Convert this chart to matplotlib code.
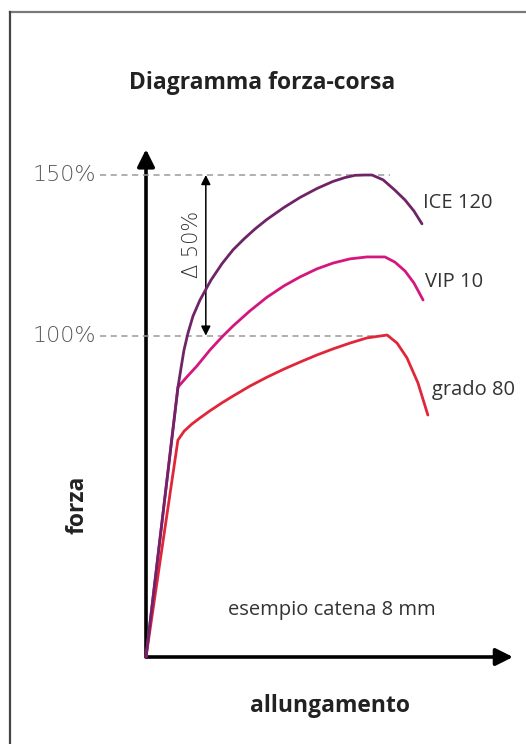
import numpy as np
import matplotlib.pyplot as plt
from matplotlib.patches import FancyArrowPatch

# valori (allungamento in unita' arbitrarie, forza in %)
ice_x = [0, 8.72, 9.54, 10.35, 11.44, 12.81, 14.71, 17.71, 20.71, 23.71, 26.70, 29.70, 32.97,
         37.60, 41.96, 46.59, 50.95, 54.22, 56.95, 59.67, 61.58, 64.6, 67.8, 70.6, 73.0, 75.2]
ice_y = [0, 84.0, 89.9, 95.5, 100.8, 106.1, 111.1, 117.3, 122.4, 126.7, 130.1, 133.2, 136.2,
         139.9, 143.0, 145.8, 148.0, 149.2, 149.9, 150.0, 150.0, 148.5, 145.3, 142.2, 138.8, 134.8]

vip_x = [0, 8.7, 11.4, 13.9, 17.4, 20.7, 23.7, 28.3, 33.0, 37.6, 42.0, 46.6, 51.0, 55.6,
         60.2, 65.1, 67.8, 70.6, 73.0, 75.5]
vip_y = [0, 84.0, 87.5, 90.6, 95.5, 99.6, 103.0, 107.7, 112.0, 115.5, 118.3, 120.8, 122.6, 123.9,
         124.5, 124.5, 122.9, 120.1, 116.4, 111.1]

g80_x = [0, 8.7, 10.4, 12.5, 14.7, 17.4, 20.7, 23.7, 28.3, 33.0, 37.6, 42.0, 46.6, 51.0,
         55.6, 60.2, 65.7, 68.4, 71.1, 74.1, 76.8]
g80_y = [0, 67.5, 70.3, 72.5, 74.4, 76.6, 79.1, 81.2, 84.3, 87.1, 89.6, 91.8, 94.0, 95.9,
         97.7, 99.3, 100.2, 97.7, 93.1, 85.3, 75.3]

livelli = [100, 150]
livelli_txt = ['100%', '150%']

W, H = 526, 744
fig = plt.figure(figsize=(W / 100, H / 100), dpi=100)

# cornice
fig.add_artist(plt.Line2D([10 / W, 1], [1 - 12 / H, 1 - 12 / H], color='#7a7a7a', lw=1.6))
fig.add_artist(plt.Line2D([10 / W, 10 / W], [0, 1 - 12 / H], color='#444444', lw=1.6))

x0, y0 = 146, 657
ax = fig.add_axes([x0 / W, (H - y0) / H, (513 - x0) / W, (y0 - 175) / H])
ax.set_xlim(0, 100)
ax.set_ylim(0, 150)
ax.axis('off')

# linee tratteggiate 100% e 150%
for lv, t in zip(livelli, livelli_txt):
    ax.plot([-12.5, 66.5], [lv, lv], color='#9a9a9a', lw=1.1, ls=(0, (4, 3)), clip_on=False)
    ax.text(-13.6, lv, t, ha='right', va='center', fontsize=16, color='#555555',
            fontfamily='DejaVu Sans', fontweight='light')

# curve
kw = dict(lw=2.0, solid_capstyle='round', solid_joinstyle='round', clip_on=False)
ax.plot(g80_x, g80_y, color='#e2263a', **kw)
ax.plot(vip_x, vip_y, color='#d4167f', **kw)
ax.plot(ice_x, ice_y, color='#6f2468', **kw)

# assi con frecce
ax.add_patch(FancyArrowPatch((0, 0), (0, 158), arrowstyle='-|>', mutation_scale=26,
                             color='black', lw=2.6, clip_on=False, shrinkA=0, shrinkB=0))
ax.add_patch(FancyArrowPatch((0, 0), (100, 0), arrowstyle='-|>', mutation_scale=26,
                             color='black', lw=2.6, clip_on=False, shrinkA=0, shrinkB=0))

# freccia delta 50%
ax.add_patch(FancyArrowPatch((16.3, 100), (16.3, 150), arrowstyle='<|-|>', mutation_scale=14,
                             color='black', lw=1.1, clip_on=False, shrinkA=0, shrinkB=0))
ax.text(12.4, 128.5, '\u0394 50%', rotation=90, ha='center', va='center', fontsize=15,
        color='#333333', fontfamily='DejaVu Sans', fontweight='light')

ff = 'Open Sans'
fig.text(262 / W, 1 - 83 / H, 'Diagramma forza-corsa', ha='center', va='center',
         fontsize=16.5, fontweight='bold', color='#222222', fontfamily=ff)
fig.text(423 / W, 1 - 203 / H, 'ICE 120', ha='left', va='center', fontsize=14.5, color='#333333', fontfamily=ff)
fig.text(425 / W, 1 - 282 / H, 'VIP 10', ha='left', va='center', fontsize=14.5, color='#333333', fontfamily=ff)
fig.text(432 / W, 1 - 390 / H, 'grado 80', ha='left', va='center', fontsize=14.5, color='#333333', fontfamily=ff)
fig.text(332 / W, 1 - 610 / H, 'esempio catena 8 mm', ha='center', va='center', fontsize=14.5,
         color='#333333', fontfamily=ff)
fig.text(330 / W, 1 - 706 / H, 'allungamento', ha='center', va='center', fontsize=16.5,
         fontweight='bold', color='#222222', fontfamily=ff)
fig.text(77 / W, 1 - 505 / H, 'forza', ha='center', va='center', rotation=90, fontsize=16.5,
         fontweight='bold', color='#222222', fontfamily=ff)

fig.savefig('out.png', dpi=100)
